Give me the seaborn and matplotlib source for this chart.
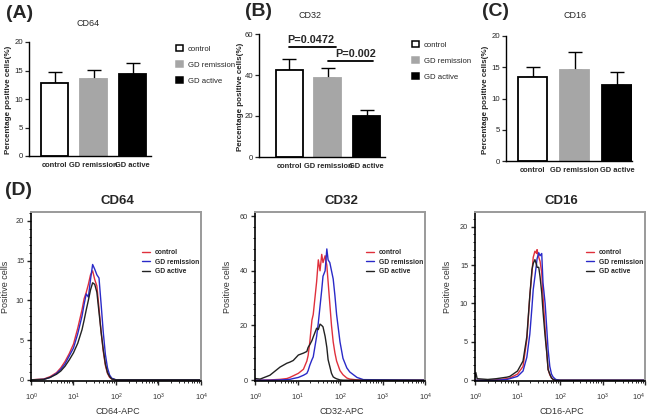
import numpy as np
import pandas as pd
import seaborn as sns
import matplotlib.pyplot as plt
from matplotlib.patches import Patch
from matplotlib.lines import Line2D
from matplotlib.ticker import MultipleLocator, LogLocator, NullFormatter

# ---- bar panels (A, B, C) ----
groups = ["control", "GD remission", "GD active"]
bar_colors = ["white", "#a6a6a6", "black"]
edge_colors = ["black", "#a6a6a6", "black"]

cd64_mean = [12.8, 13.5, 14.3]
cd64_err = [2.0, 1.6, 2.1]
cd32_mean = [42.3, 38.6, 20.1]
cd32_err = [5.4, 4.6, 3.0]
cd16_mean = [13.4, 14.6, 12.1]
cd16_err = [1.7, 2.9, 2.2]

p_labels = ["P=0.0472", "P=0.002"]
p_heights = [53.7, 46.8]

# ---- flow histograms (D), x in decades (log10) ----
decades = [0, 1, 2, 3, 4]
h64_x = [0.0, 0.3, 0.45, 0.6, 0.7, 0.8, 0.9, 1.0, 1.1, 1.2, 1.25, 1.3, 1.35, 1.4, 1.45,
         1.5, 1.55, 1.6, 1.65, 1.7, 1.75, 1.8, 1.85, 1.9, 2.0, 4.0]
h64_ctrl = [0, 0.1, 0.4, 0.9, 1.5, 2.3, 3.3, 4.5, 6.5, 8.8, 10.2, 11.0, 12.0, 13.2, 13.7,
            12.6, 11.8, 9.0, 6.0, 3.6, 1.8, 0.8, 0.3, 0.1, 0, 0]
h64_rem = [0, 0.05, 0.3, 0.8, 1.3, 2.0, 3.0, 4.0, 5.8, 8.0, 9.5, 10.8, 10.4, 12.6, 14.5,
           13.9, 13.2, 12.8, 9.5, 6.0, 3.2, 1.5, 0.6, 0.2, 0, 0]
h64_act = [0, 0.05, 0.3, 0.7, 1.1, 1.7, 2.5, 3.4, 4.6, 6.3, 7.5, 8.8, 10.0, 11.3, 12.2,
           12.0, 11.0, 8.5, 6.0, 3.8, 2.0, 0.9, 0.4, 0.1, 0, 0]

h32_x = [0.0, 0.12, 0.35, 0.59, 0.75, 0.82, 0.9, 1.02, 1.14, 1.22, 1.25, 1.29, 1.34, 1.37,
         1.45, 1.49, 1.53, 1.57, 1.6, 1.65, 1.69, 1.72, 1.76, 1.8, 1.84, 1.88, 1.92, 2.0,
         2.07, 2.16, 2.23, 2.4, 2.55, 4.0]
h32_ctrl = [0, 0, 0.1, 0.3, 0.6, 1.0, 1.6, 2.5, 4.0, 7.0, 9.0, 14.0, 22.0, 24.0,
            36.0, 44.0, 40.0, 46.0, 43.0, 45.5, 42.0, 36.0, 28.0, 20.0, 14.0, 10.0, 7.0, 3.5,
            2.0, 0.8, 0.4, 0.1, 0, 0]
h32_rem = [0, 0, 0, 0.1, 0.2, 0.3, 0.6, 1.0, 1.8, 2.5, 3.5, 5.5, 7.5, 8.5,
           16.0, 21.0, 27.0, 33.0, 38.0, 40.0, 48.0, 44.0, 43.0, 40.0, 37.0, 31.0, 24.0, 14.0,
           8.0, 4.5, 3.0, 1.0, 0.2, 0]
h32_act = [0.6, 0.4, 1.8, 4.8, 6.2, 6.6, 7.2, 9.2, 9.9, 10.5, 12.0, 13.0, 14.5, 15.8,
           19.0, 18.5, 20.5, 20.0, 19.5, 16.0, 12.0, 7.5, 5.0, 2.5, 1.2, 0.8, 0.5, 0.1,
           0, 0, 0, 0, 0, 0]

h16_x = [0.0, 0.02, 0.05, 0.3, 0.5, 0.75, 0.82, 1.0, 1.13, 1.22, 1.29, 1.34, 1.37, 1.41,
         1.45, 1.46, 1.5, 1.53, 1.57, 1.6, 1.65, 1.69, 1.72, 1.76, 1.8, 1.84, 1.9, 2.0, 4.0]
h16_ctrl = [0, 0, 0, 0, 0.05, 0.2, 0.3, 0.8, 1.8, 5.3, 11.0, 14.0, 16.0, 16.8,
            16.5, 17.0, 16.0, 15.5, 14.0, 11.0, 6.6, 3.5, 1.4, 0.7, 0.3, 0.1, 0, 0, 0]
h16_rem = [0, 0, 0, 0, 0, 0.1, 0.2, 0.5, 1.2, 3.0, 6.0, 9.5, 11.8, 13.5,
           15.3, 15.8, 16.6, 16.2, 16.5, 12.7, 10.0, 6.6, 4.0, 1.8, 0.8, 0.4, 0.1, 0, 0]
h16_act = [0.3, 1.0, 0.2, 0.1, 0.2, 0.4, 0.5, 1.2, 2.5, 5.7, 11.0, 14.4, 15.2, 15.7,
           15.0, 14.7, 14.7, 13.5, 11.4, 9.0, 5.7, 3.5, 1.4, 0.8, 0.3, 0.1, 0, 0, 0]

hist_colors = ["#e0303c", "#2a2ac8", "#222222"]

W, H = 647, 418
fig = plt.figure(figsize=(W / 100, H / 100), dpi=100)
sns.set_style("ticks")
plt.rcParams["font.family"] = ["Liberation Sans", "DejaVu Sans"]


def rect(l, r, t, b):
    return [l / W, (H - b) / H, (r - l) / W, (b - t) / H]


def ftext(x, y, s, **kw):
    fig.text(x / W, (H - y) / H, s, ha="center", va="center", **kw)


def bar_panel(box, means, errs, ymax, step, xlim, title, title_xy, ylab_x):
    ax = fig.add_axes(rect(*box))
    df = pd.DataFrame({"group": groups, "value": means})
    sns.barplot(data=df, x="group", y="value", hue="group", palette=bar_colors,
                order=groups, hue_order=groups, legend=False, errorbar=None,
                width=0.7, ax=ax, zorder=2)
    for p, ec in zip(ax.patches, edge_colors):
        p.set_edgecolor(ec)
        p.set_linewidth(1.3)
    ax.errorbar(range(3), means, yerr=[[0, 0, 0], errs], fmt="none", ecolor="black",
                elinewidth=1.0, capsize=5, capthick=1.0, zorder=1)
    ax.set_ylim(0, ymax)
    ax.set_xlim(*xlim)
    ax.yaxis.set_major_locator(MultipleLocator(step))
    sns.despine(ax=ax)
    for s in ["left", "bottom"]:
        ax.spines[s].set_linewidth(1.0)
        ax.spines[s].set_color("black")
    ax.tick_params(axis="y", length=3, width=0.9, pad=1.0, labelsize=5.6)
    ax.tick_params(axis="x", length=0, pad=4.5, labelsize=5.4)
    for lab in ax.get_xticklabels():
        lab.set_fontweight("bold")
    ax.set_xlabel("")
    ax.set_ylabel("")
    ftext(ylab_x, (box[2] + box[3]) / 2 + 1, "Percentage positive cells(%)",
          fontsize=5.8, fontweight="bold", rotation=90)
    ftext(*title_xy, title, fontsize=6.5)
    return ax


axA = bar_panel((29, 151, 42, 156), cd64_mean, cd64_err, 20, 5, (-0.66, 2.47),
                "CD64", (88, 24), 9)
axB = bar_panel((259, 385, 34, 157), cd32_mean, cd32_err, 60, 20, (-0.79, 2.48),
                "CD32", (310, 15), 240)
axC = bar_panel((506, 632, 36, 161), cd16_mean, cd16_err, 20, 5, (-0.63, 2.36),
                "CD16", (575, 15), 486)

# significance bars on B
axB.plot([0.0, 1.2], [p_heights[0]] * 2, color="black", lw=1.3)
axB.plot([1.0, 2.18], [p_heights[1]] * 2, color="black", lw=1.3)
axB.text(0.55, p_heights[0] + 1.0, p_labels[0], ha="center", va="bottom",
         fontsize=7.8, fontweight="bold")
axB.text(1.72, p_heights[1] + 1.0, p_labels[1], ha="center", va="bottom",
         fontsize=7.8, fontweight="bold")

# bar legends
leg_handles = [Patch(facecolor=c, edgecolor=e, linewidth=1.1) for c, e in zip(bar_colors, edge_colors)]
for anchor in [(176, 45), (412, 41)]:
    fig.legend(leg_handles, groups, loc="upper left",
               bbox_to_anchor=(anchor[0] / W, (H - anchor[1]) / H),
               frameon=False, handlelength=0.9, handleheight=0.75, handletextpad=0.6,
               labelspacing=1.1, borderpad=0, borderaxespad=0,
               prop={"size": 5.6})

# panel letters
for s, xy in [("(A)", (20, 14)), ("(B)", (258, 11)), ("(C)", (496, 11)), ("(D)", (19, 190))]:
    ftext(*xy, s, fontsize=14, fontweight="bold")


# ---- histograms ----
def hist_panel(box, xs, curves, ylim, step, title, xlabel, ylab_x):
    ax = fig.add_axes(rect(*box))
    df = pd.concat([pd.DataFrame({"x": np.power(10.0, xs), "y": c, "grp": g})
                    for c, g in zip(curves, groups)])
    sns.lineplot(data=df, x="x", y="y", hue="grp", hue_order=groups,
                 palette=hist_colors, lw=1.0, sort=False, estimator=None,
                 legend=False, ax=ax)
    ax.set_xscale("log")
    ax.set_xlim(1, 1e4)
    ax.set_ylim(*ylim)
    ax.yaxis.set_major_locator(MultipleLocator(step))
    ax.yaxis.set_minor_locator(MultipleLocator(step / 5))
    ax.set_xticks([10.0 ** d for d in decades])
    ax.xaxis.set_minor_locator(LogLocator(base=10, subs=np.arange(2, 10), numticks=10))
    ax.xaxis.set_minor_formatter(NullFormatter())
    for s in ["top", "right"]:
        ax.spines[s].set_color("#9a9a9a")
        ax.spines[s].set_linewidth(1.4)
    for s in ["left", "bottom"]:
        ax.spines[s].set_color("black")
        ax.spines[s].set_linewidth(1.2)
    ax.tick_params(which="major", length=3, width=1.0, labelsize=5.3,
                   labelcolor="#333333", pad=2)
    ax.tick_params(which="minor", length=1.5, width=0.7)
    ax.tick_params(axis="x", pad=5)
    ax.set_xlabel("")
    ax.set_ylabel("")
    ftext((box[0] + box[1]) / 2 + 2, 412, xlabel, fontsize=6.5, color="#333333")
    ftext(ylab_x, (box[2] + box[3]) / 2 - 10, "Positive cells", fontsize=6.5,
          color="#333333", rotation=90)
    ftext((box[0] + box[1]) / 2 + 1, box[2] - 11, title, fontsize=9.5, fontweight="bold")
    hl = [Line2D([0], [0], color=c, lw=1.0) for c in hist_colors]
    ax.legend(hl, groups, loc="upper left", bbox_to_anchor=(0.655, 0.78),
              frameon=False, handlelength=1.1, handletextpad=0.7, labelspacing=0.35,
              borderpad=0, borderaxespad=0,
              prop={"weight": "bold", "size": 4.9})
    return ax


hist_panel((31, 201, 212, 381), h64_x, [h64_ctrl, h64_rem, h64_act], (-0.15, 21.1), 5,
           "CD64", "CD64-APC", 6)
hist_panel((255, 425, 212, 381), h32_x, [h32_ctrl, h32_rem, h32_act], (-0.3, 61.5), 20,
           "CD32", "CD32-APC", 227)
ax16 = hist_panel((475, 645, 212, 381), h16_x, [h16_ctrl, h16_rem, h16_act], (-0.1, 21.9), 5,
                  "CD16", "CD16-APC", 447)
ax16.get_xticklabels()[-1].set_horizontalalignment("right")

fig.savefig("out.png", dpi=100)
